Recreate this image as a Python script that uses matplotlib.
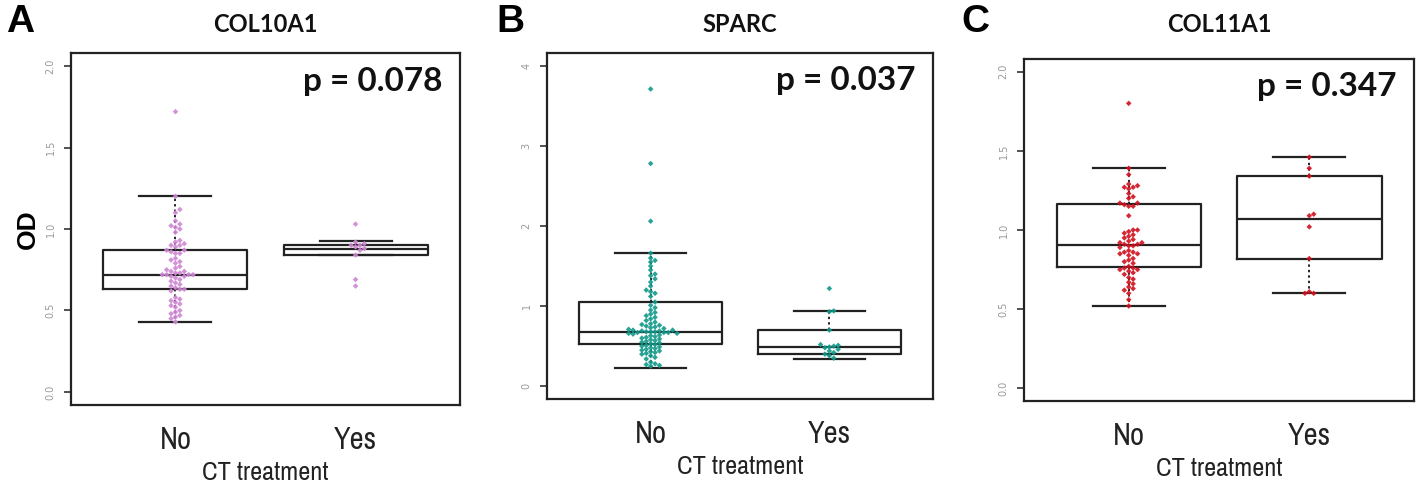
import numpy as np
import matplotlib
matplotlib.use('Agg')
import matplotlib.pyplot as plt
from matplotlib import font_manager

# ---- data ----
groups = ['No', 'Yes']

# COL10A1
a_no = [1.72, 1.20, 1.12, 1.10, 1.05, 1.03, 1.02, 1.01, 1.00, 0.98, 0.93, 0.92, 0.91,
        0.90, 0.90, 0.89, 0.87, 0.87, 0.86, 0.85, 0.85, 0.82, 0.81, 0.80, 0.79, 0.77,
        0.76, 0.75, 0.74, 0.74, 0.73, 0.73, 0.72, 0.72, 0.72, 0.72, 0.71, 0.71, 0.70,
        0.69, 0.68, 0.67, 0.66, 0.65, 0.64, 0.63, 0.63, 0.62, 0.58, 0.57, 0.56, 0.55,
        0.54, 0.53, 0.52, 0.50, 0.49, 0.48, 0.47, 0.46, 0.45, 0.43]
a_yes = [1.03, 0.92, 0.91, 0.90, 0.90, 0.89, 0.88, 0.87, 0.84, 0.69, 0.65]
a_whislo = [0.43, 0.84]
a_q1 = [0.63, 0.84]
a_med = [0.72, 0.877]
a_q3 = [0.87, 0.904]
a_whishi = [1.20, 0.924]

# SPARC
b_no = [3.71, 2.78, 2.06, 1.66, 1.60, 1.57, 1.55, 1.50, 1.45, 1.40, 1.38, 1.34, 1.30,
        1.25, 1.20, 1.18, 1.16, 1.12, 1.05, 1.01, 0.98, 0.95, 0.92, 0.90, 0.88, 0.86,
        0.84, 0.82, 0.80, 0.78, 0.77, 0.76, 0.75, 0.74, 0.73, 0.72, 0.71, 0.70, 0.70,
        0.69, 0.69, 0.68, 0.68, 0.68, 0.67, 0.67, 0.67, 0.66, 0.66, 0.65, 0.64, 0.63,
        0.62, 0.61, 0.60, 0.59, 0.58, 0.57, 0.56, 0.55, 0.54, 0.53, 0.52, 0.51, 0.50,
        0.49, 0.48, 0.47, 0.46, 0.45, 0.44, 0.43, 0.42, 0.41, 0.40, 0.38, 0.36, 0.34,
        0.30, 0.28, 0.27, 0.26, 0.25]
b_yes = [1.22, 0.94, 0.93, 0.70, 0.52, 0.51, 0.50, 0.49, 0.48, 0.46, 0.44, 0.42,
         0.40, 0.38, 0.35]
b_whislo = [0.233, 0.34]
b_q1 = [0.532, 0.40]
b_med = [0.677, 0.494]
b_q3 = [1.047, 0.702]
b_whishi = [1.666, 0.939]

# COL11A1
c_no = [1.80, 1.39, 1.35, 1.29, 1.28, 1.27, 1.27, 1.26, 1.23, 1.21, 1.20, 1.17, 1.17,
        1.16, 1.15, 1.15, 1.09, 1.00, 1.00, 0.99, 0.98, 0.97, 0.96, 0.95, 0.94, 0.93,
        0.92, 0.92, 0.91, 0.91, 0.90, 0.90, 0.89, 0.87, 0.86, 0.86, 0.85, 0.85, 0.84,
        0.82, 0.81, 0.80, 0.79, 0.77, 0.76, 0.76, 0.75, 0.75, 0.74, 0.73, 0.72, 0.70,
        0.69, 0.67, 0.66, 0.64, 0.63, 0.62, 0.60, 0.56, 0.52]
c_yes = [1.46, 1.39, 1.34, 1.10, 1.09, 1.02, 0.82, 0.60, 0.60, 0.61]
c_whislo = [0.523, 0.599]
c_q1 = [0.764, 0.816]
c_med = [0.905, 1.068]
c_q3 = [1.165, 1.34]
c_whishi = [1.394, 1.46]

titles = ['COL10A1', 'SPARC', 'COL11A1']
letters = ['A', 'B', 'C']
pvals = ['p = 0.078', 'p = 0.037', 'p = 0.347']
colors = ['#cf86d3', '#11998a', '#d0101e']
ymaxs = [2, 4, 2]

# narrow font for the axis text if one is installed
narrow = None
for f in font_manager.fontManager.ttflist:
    if 'Narrow' in f.name or 'Condensed' in f.name:
        narrow = f.name
        break
if narrow is None:
    for f in font_manager.fontManager.ttflist:
        if f.name == 'DejaVu Sans' and f.stretch == 'condensed':
            narrow = 'DejaVu Sans'
            break
axfont = dict(family=[narrow or 'DejaVu Sans', 'DejaVu Sans'], fontstretch='condensed')


def swarm(vals, ypx, xpx, d=4.0):
    # simple beeswarm: put each point at the smallest free horizontal offset
    placed = []
    xs = []
    for v in vals:
        y = v * ypx
        k = 0
        while True:
            for off in ([0.0] if k == 0 else [k * d * 0.55, -k * d * 0.55]):
                if all((off - px) ** 2 + (y - py) ** 2 >= d ** 2 for px, py in placed):
                    break
            else:
                k += 1
                continue
            break
        placed.append((off, y))
        xs.append(off / xpx)
    return np.array(xs)


W, H = 1418, 492
fig = plt.figure(figsize=(W / 100, H / 100), dpi=100)

# axes boxes in pixels: left, top, right, bottom
boxes_px = [(71, 53, 460, 405), (547, 53, 933, 399), (1024, 59, 1414, 401)]

panels = [
    (a_no, a_yes, a_whislo, a_q1, a_med, a_q3, a_whishi),
    (b_no, b_yes, b_whislo, b_q1, b_med, b_q3, b_whishi),
    (c_no, c_yes, c_whislo, c_q1, c_med, c_q3, c_whishi),
]

for i, (pnl, bx) in enumerate(zip(panels, boxes_px)):
    no, yes, wlo, q1, med, q3, whi = pnl
    l, t, r, b = bx
    ax = fig.add_axes([l / W, (H - b) / H, (r - l) / W, (b - t) / H])
    ymax = ymaxs[i]
    ylo, yhi = -0.04 * ymax, 1.04 * ymax
    ax.set_xlim(0.42, 2.58)
    ax.set_ylim(ylo, yhi)

    stats = []
    for j in range(2):
        stats.append(dict(whislo=wlo[j], q1=q1[j], med=med[j], q3=q3[j],
                          whishi=whi[j], fliers=[]))
    ax.bxp(stats, positions=[1, 2], widths=0.8, showfliers=False,
           boxprops=dict(color='#222222', linewidth=1.6),
           medianprops=dict(color='#222222', linewidth=1.6),
           whiskerprops=dict(color='#222222', linewidth=1.4, linestyle=(0, (1.2, 1.6))),
           capprops=dict(color='#222222', linewidth=1.6), capwidths=0.4, zorder=2)

    ypx = (b - t) / (yhi - ylo)
    xpx = (r - l) / 2.16
    for j, vals in enumerate([no, yes]):
        vals = np.array(vals)
        order = np.argsort(np.abs(vals - np.median(vals)))
        vs = vals[order]
        xo = swarm(vs, ypx, xpx)
        ax.scatter(j + 1 + xo, vs, s=8, marker='D', color=colors[i],
                   edgecolors='none', alpha=0.9, zorder=3)

    ticks = np.linspace(0, ymax, 5)
    ax.set_yticks(ticks)
    if ymax == 4:
        ax.set_yticklabels([f'{v:.0f}' for v in ticks])
    else:
        ax.set_yticklabels([f'{v:.1f}' for v in ticks])
    ax.tick_params(axis='y', labelsize=7, labelcolor='#999999', rotation=90,
                   length=5, width=1.2, color='#333333', pad=6)
    for lab in ax.get_yticklabels():
        lab.set_va('center')
    ax.set_xticks([1, 2])
    ax.set_xticklabels(groups, fontsize=22, color='#222222', **axfont)
    ax.tick_params(axis='x', length=0, pad=15)
    ax.set_xlabel('CT treatment', fontsize=19, color='#222222', labelpad=5, **axfont)
    for s in ax.spines.values():
        s.set_linewidth(1.6)
        s.set_color('#222222')

    ax.text(0.955, 0.92, pvals[i], transform=ax.transAxes, ha='right', va='center',
            fontsize=24, fontweight='bold', family='Lato', color='#111111')

    cx = (l + r) / 2
    fig.text(cx / W, 1 - 24 / H, titles[i], ha='center', va='center',
             fontsize=17, fontweight='bold', family='Lato', color='#111111')
    fig.text([20, 510, 975][i] / W, 1 - 22 / H, letters[i], ha='center', va='center',
             fontsize=28, fontweight='bold', family='Liberation Sans', color='black')

    if i == 0:
        ax.set_ylabel('OD', fontsize=19, fontweight='bold', family='Liberation Sans',
                      labelpad=4)

fig.savefig('out.png', dpi=100)
